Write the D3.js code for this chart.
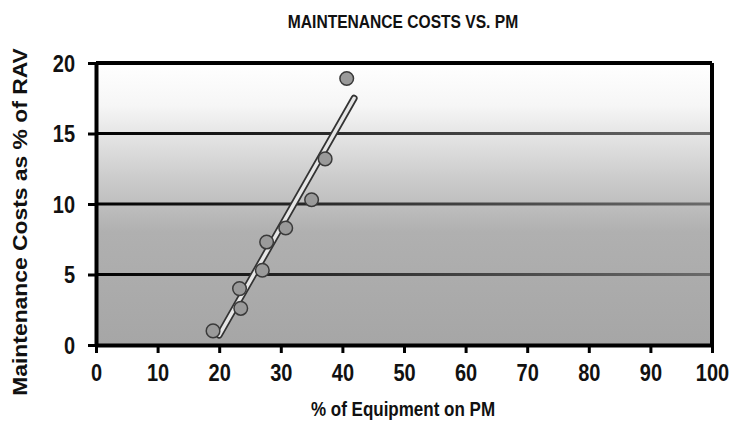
<!DOCTYPE html>
<html>
<head>
<meta charset="utf-8">
<script src="https://cdn.jsdelivr.net/npm/d3@7"></script>
<style>
  body { margin: 0; background: #fff; }
  text { font-family: "Liberation Sans", Arial, sans-serif; font-weight: bold; fill: #111; }
</style>
</head>
<body>
<div id="container"></div>
<script>
// Data
var pmShare = [19.0, 23.5, 23.3, 27.0, 27.7, 30.8, 35.0, 37.2, 40.7];
var costShare = [1.0, 2.6, 4.0, 5.3, 7.3, 8.3, 10.3, 13.2, 18.9];
var trendX = [20.0, 41.9];
var trendY = [0.7, 17.5];
var xTicks = [0, 10, 20, 30, 40, 50, 60, 70, 80, 90, 100];
var yTicks = [0, 5, 10, 15, 20];

var width = 732, height = 433;
var margin = {top: 63, left: 96};
var w = 712 - margin.left, h = 345 - margin.top;
// the source picture is a bit stretched vertically
var stretch = 1.16;

var svg = d3.select("#container").append("svg")
    .attr("width", width)
    .attr("height", height);

var defs = svg.append("defs");
var bg = defs.append("linearGradient").attr("id", "bg")
    .attr("x1", 0).attr("y1", 0).attr("x2", 0).attr("y2", 1);
bg.append("stop").attr("offset", "0").attr("stop-color", "#ffffff");
bg.append("stop").attr("offset", "0.15").attr("stop-color", "#f6f6f6");
bg.append("stop").attr("offset", "0.4").attr("stop-color", "#cdcdcd");
bg.append("stop").attr("offset", "0.6").attr("stop-color", "#b0b0b0");
bg.append("stop").attr("offset", "1").attr("stop-color", "#a6a6a6");

var gl = defs.append("linearGradient").attr("id", "grid")
    .attr("gradientUnits", "userSpaceOnUse")
    .attr("x1", 0).attr("y1", 0).attr("x2", w).attr("y2", 0);
gl.append("stop").attr("offset", "0").attr("stop-color", "#000");
gl.append("stop").attr("offset", "0.45").attr("stop-color", "#333");
gl.append("stop").attr("offset", "1").attr("stop-color", "#6a6a6a");

var g = svg.append("g")
    .attr("transform", "translate(" + margin.left + "," + margin.top + ")");

var x = d3.scaleLinear().domain([0, 100]).range([0, w]);
var y = d3.scaleLinear().domain([0, 20]).range([h, 0]);

// Plot background
g.append("rect")
    .attr("width", w).attr("height", h)
    .attr("fill", "url(#bg)");

// Gridlines
g.selectAll(".grid")
    .data(yTicks.filter(function(d) { return d > 0 && d < 20; }))
    .enter().append("line")
    .attr("x1", 0).attr("x2", w)
    .attr("y1", function(d) { return y(d); })
    .attr("y2", function(d) { return y(d); })
    .attr("stroke", "url(#grid)")
    .attr("stroke-width", 3);

// Frame
g.append("line").attr("x1", 0).attr("x2", w).attr("y1", 0).attr("y2", 0)
    .attr("stroke", "#000").attr("stroke-width", 4);
g.append("line").attr("x1", w).attr("x2", w).attr("y1", 0).attr("y2", h)
    .attr("stroke", "#000").attr("stroke-width", 4);

// Trend line (outlined bar)
var trend = d3.line()
    .x(function(d, i) { return x(trendX[i]); })
    .y(function(d, i) { return y(trendY[i]); });
g.append("path").attr("d", trend(trendX))
    .attr("stroke", "#333").attr("stroke-width", 7)
    .attr("stroke-linecap", "round").attr("fill", "none");
g.append("path").attr("d", trend(trendX))
    .attr("stroke", "#e6e6e6").attr("stroke-width", 3.5)
    .attr("stroke-linecap", "round").attr("fill", "none");

// Points
g.selectAll(".dot")
    .data(pmShare)
    .enter().append("circle")
    .attr("cx", function(d) { return x(d); })
    .attr("cy", function(d, i) { return y(costShare[i]); })
    .attr("r", 6.8)
    .attr("fill", "#9a9a9a")
    .attr("stroke", "#3a3a3a")
    .attr("stroke-width", 1.5);

// Axes
var xAxis = g.append("g")
    .attr("transform", "translate(0," + h + ")")
    .call(d3.axisBottom(x).tickValues(xTicks).tickSize(8).tickSizeOuter(0));
var yAxis = g.append("g")
    .call(d3.axisLeft(y).tickValues(yTicks).tickSize(8).tickSizeOuter(0));
[xAxis, yAxis].forEach(function(a) {
    a.select(".domain").attr("stroke", "#000").attr("stroke-width", 4);
    a.selectAll(".tick line").attr("stroke", "#000").attr("stroke-width", 3);
    a.selectAll(".tick text").style("font-size", "20px").attr("fill", "#111")
        .attr("x", 0).attr("y", 0).attr("dy", null);
});
xAxis.selectAll(".tick text")
    .attr("transform", "translate(0,36) scale(1," + stretch + ")");
yAxis.selectAll(".tick text")
    .attr("transform", "translate(-21,8) scale(1," + stretch + ")");

// Title and axis labels
svg.append("text")
    .attr("transform", "translate(403,28) scale(1," + stretch + ")")
    .attr("text-anchor", "middle")
    .style("font-size", "15.6px")
    .text("MAINTENANCE COSTS VS. PM");

svg.append("text")
    .attr("transform", "translate(403,416) scale(1," + stretch + ")")
    .attr("text-anchor", "middle")
    .style("font-size", "17px")
    .text("% of Equipment on PM");

svg.append("text")
    .attr("transform", "translate(27,222) rotate(-90) scale(" + stretch + ",1)")
    .attr("text-anchor", "middle")
    .style("font-size", "19.7px")
    .text("Maintenance Costs as % of RAV");
</script>
</body>
</html>
